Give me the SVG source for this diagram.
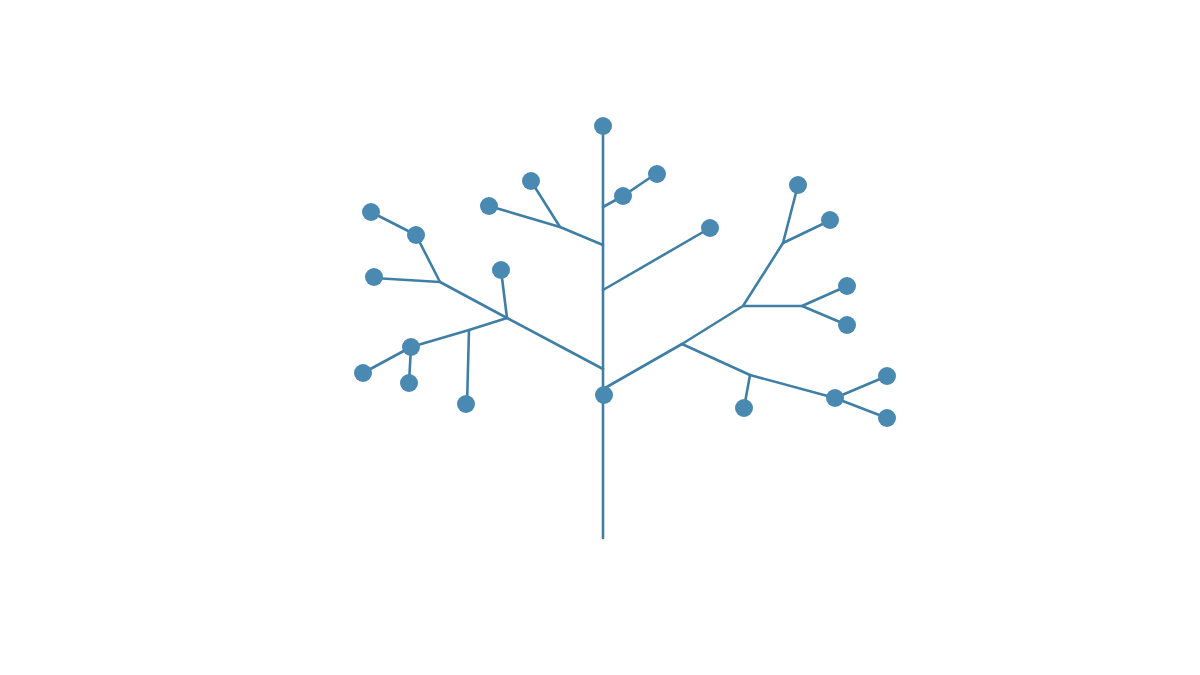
<svg xmlns="http://www.w3.org/2000/svg" width="1200" height="675" viewBox="0 0 1200 675">
<style>
.e{stroke:#3f7fa6;stroke-width:2.6;fill:none;stroke-linecap:round;stroke-linejoin:round}
.n{fill:#4a89b2}
</style>
<rect width="1200" height="675" fill="#ffffff"/>
<g id="connectors" class="e">
<path d="M603,126 L603,538"/>
<path d="M603,207 L623,196 L657,173"/>
<path d="M603,245 L560,227 L489,206"/>
<path d="M560,227 L531,181"/>
<path d="M603,290 L710,228"/>
<path d="M603,369 L507,318 L440,282 L374,278"/>
<path d="M440,282 L416,235 L371,212"/>
<path d="M507,318 L501,270"/>
<path d="M507,318 L469,330 L411,347 L363,373"/>
<path d="M411,347 L409,383"/>
<path d="M469,330 L467,405"/>
<path d="M605,388 L682,344 L743,306 L783,243 L798,185"/>
<path d="M783,243 L831,220"/>
<path d="M743,306 L802,306 L847,286"/>
<path d="M802,306 L847,325"/>
<path d="M682,344 L750,375 L835,398 L887,376"/>
<path d="M835,398 L887,418"/>
<path d="M750,375 L744,408"/>
</g>
<g id="n1"><circle class="n" cx="603" cy="126" r="9"/></g>
<g id="n2"><circle class="n" cx="623" cy="196" r="9"/></g>
<g id="n3"><circle class="n" cx="657" cy="174" r="9"/></g>
<g id="n4"><circle class="n" cx="531" cy="181" r="9"/></g>
<g id="n5"><circle class="n" cx="489" cy="206" r="9"/></g>
<g id="n6"><circle class="n" cx="710" cy="228" r="9"/></g>
<g id="n7"><circle class="n" cx="371" cy="212" r="9"/></g>
<g id="n8"><circle class="n" cx="416" cy="235" r="9"/></g>
<g id="n9"><circle class="n" cx="374" cy="277" r="9"/></g>
<g id="n10"><circle class="n" cx="501" cy="270" r="9"/></g>
<g id="n11"><circle class="n" cx="411" cy="347" r="9"/></g>
<g id="n12"><circle class="n" cx="363" cy="373" r="9"/></g>
<g id="n13"><circle class="n" cx="409" cy="383" r="9"/></g>
<g id="n14"><circle class="n" cx="466" cy="404" r="9"/></g>
<g id="n15"><circle class="n" cx="604" cy="395" r="9"/></g>
<g id="n16"><circle class="n" cx="798" cy="185" r="9"/></g>
<g id="n17"><circle class="n" cx="830" cy="220" r="9"/></g>
<g id="n18"><circle class="n" cx="847" cy="286" r="9"/></g>
<g id="n19"><circle class="n" cx="847" cy="325" r="9"/></g>
<g id="n20"><circle class="n" cx="744" cy="408" r="9"/></g>
<g id="n21"><circle class="n" cx="835" cy="398" r="9"/></g>
<g id="n22"><circle class="n" cx="887" cy="376" r="9"/></g>
<g id="n23"><circle class="n" cx="887" cy="418" r="9"/></g>
</svg>
